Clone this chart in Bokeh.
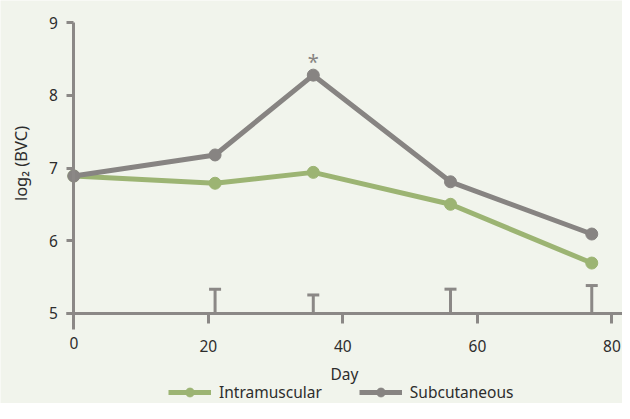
import math
from bokeh.plotting import figure
from bokeh.models import LinearAxis, FixedTicker, Legend, LegendItem, Label, Range1d, Whisker, TeeHead, ColumnDataSource
from bokeh.core.properties import value
from bokeh.embed import file_html
from bokeh.resources import INLINE

# ---- data ----
days = [0, 21, 35.6, 56, 77]
intramuscular = [6.89, 6.79, 6.94, 6.50, 5.69]
subcutaneous = [6.89, 7.18, 8.28, 6.81, 6.09]
bar_days = [21, 35.6, 56, 77]
bar_base = [5, 5, 5, 5]
bar_top = [5.33, 5.25, 5.33, 5.38]
x_ticks = [0, 20, 40, 60, 80]
y_ticks = [5, 6, 7, 8, 9]
star_day = [35.6]
star_value = [8.28]
star_text = ["*"]
series_names = ["Intramuscular", "Subcutaneous"]
x_title = "Day"
y_title = "log₂ (BVC)"

# ---- style ----
BG = "#f1f4ec"
GREEN = "#9cb473"
GRAY = "#878482"
AXIS = "#8b8886"
TEXT = "#2d2d2d"
FONT = "Noto Sans"
FS = "15.5px"

p = figure(width=622, height=403,
           x_range=Range1d(-10.9, 81.57), y_range=Range1d(3.754, 9.309),
           x_axis_location=None, y_axis_location=None,
           toolbar_location=None, output_backend="svg",
           min_border=0,
           background_fill_color=BG, border_fill_color=BG, outline_line_color=None)
p.grid.visible = False

xaxis = LinearAxis(fixed_location=5, bounds=(-1.07, 81.57), ticker=FixedTicker(ticks=x_ticks),
                   major_label_overrides={0: ""},
                   axis_label=x_title, axis_label_standoff=7,
                   axis_label_text_font=FONT, axis_label_text_font_size=FS,
                   axis_label_text_font_style="normal", axis_label_text_color=TEXT,
                   major_label_text_font=FONT, major_label_text_font_size=FS,
                   major_label_text_color=TEXT, major_label_standoff=17,
                   axis_line_color=AXIS, axis_line_width=3,
                   major_tick_line_color=AXIS, major_tick_line_width=3,
                   major_tick_in=0, major_tick_out=10,
                   minor_tick_line_color=None)
p.add_layout(xaxis, "below")

yaxis = LinearAxis(fixed_location=0, bounds=(4.775, 9), ticker=FixedTicker(ticks=y_ticks),
                   major_label_text_font=FONT, major_label_text_font_size=FS,
                   major_label_text_color=TEXT, major_label_standoff=9,
                   axis_line_color=AXIS, axis_line_width=3,
                   major_tick_line_color=AXIS, major_tick_line_width=3,
                   major_tick_in=0, major_tick_out=7,
                   minor_tick_line_color=None)
p.add_layout(yaxis, "left")

# y title
p.add_layout(Label(x=20, y=240, x_units="screen", y_units="screen", text=y_title,
                   angle=math.pi / 2, text_align="center", text_baseline="middle",
                   text_font=FONT, text_font_size="16.5px", text_color=TEXT))

# the "0" label sits a little higher than the others
p.add_layout(Label(x=x_ticks[0], y=4.59, text=str(x_ticks[0]), text_align="center",
                   text_baseline="middle", text_font=FONT, text_font_size=FS,
                   text_color=TEXT))

# error bars
wsrc = ColumnDataSource(dict(base=bar_days, lower=bar_base, upper=bar_top))
p.add_layout(Whisker(source=wsrc, base="base", lower="lower", upper="upper",
                     line_color=AXIS, line_width=3,
                     upper_head=TeeHead(size=12, line_color=AXIS, line_width=3),
                     lower_head=None))

# series
l1 = p.line(days, intramuscular, line_color=GREEN, line_width=5)
s1 = p.scatter(days, intramuscular, size=12, fill_color=GREEN, line_color=GREEN)
l2 = p.line(days, subcutaneous, line_color=GRAY, line_width=5)
s2 = p.scatter(days, subcutaneous, size=12, fill_color=GRAY, line_color=GRAY)

p.text(x=star_day, y=star_value, text=star_text, y_offset=-14,
       text_align="center", text_baseline="middle",
       text_font=value(FONT), text_font_size="20px", text_color=GRAY)

legend = Legend(items=[LegendItem(label=series_names[0], renderers=[l1, s1]),
                       LegendItem(label=series_names[1], renderers=[l2, s2])],
                orientation="horizontal", location=(168, 0),
                padding=0, margin=0, spacing=37, label_standoff=8,
                glyph_width=43, glyph_height=22, label_height=22,
                label_text_font=FONT, label_text_font_size=FS, label_text_color=TEXT,
                background_fill_alpha=0, border_line_color=None)
p.add_layout(legend, "center")

open("out.html", "w").write(file_html(p, INLINE))
